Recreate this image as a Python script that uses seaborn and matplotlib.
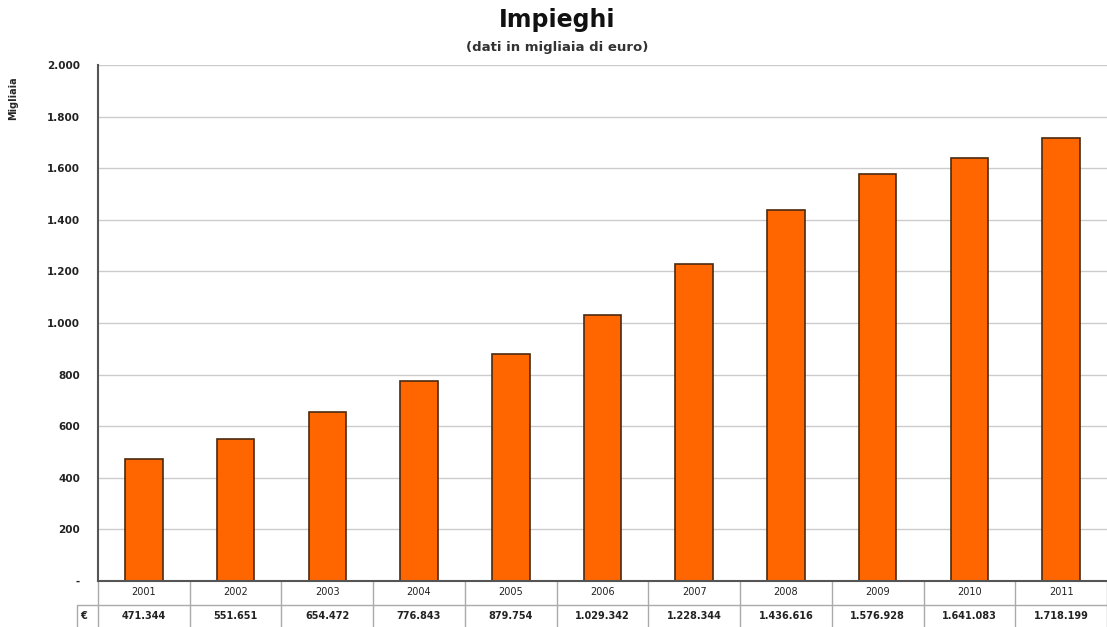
import matplotlib
matplotlib.use("Agg")
import matplotlib.pyplot as plt
import matplotlib.transforms as mtransforms
import seaborn as sns
import pandas as pd

anni = ["2001", "2002", "2003", "2004", "2005", "2006",
        "2007", "2008", "2009", "2010", "2011"]
impieghi = [471.344, 551.651, 654.472, 776.843, 879.754, 1029.342,
            1228.344, 1436.616, 1576.928, 1641.083, 1718.199]
etichette = ["471.344", "551.651", "654.472", "776.843", "879.754", "1.029.342",
             "1.228.344", "1.436.616", "1.576.928", "1.641.083", "1.718.199"]
yticks = [0, 200, 400, 600, 800, 1000, 1200, 1400, 1600, 1800, 2000]
ytick_labels = ["-", "200", "400", "600", "800", "1.000", "1.200",
                "1.400", "1.600", "1.800", "2.000"]

df = pd.DataFrame({"anno": anni, "valore": impieghi})

sns.set_style("white")
plt.rcParams["font.family"] = ["DejaVu Sans"]

fig = plt.figure(figsize=(11.07, 6.27), dpi=100)
ax = fig.add_axes([98 / 1107, 46 / 627, 1009 / 1107, 516 / 627])

sns.barplot(data=df, x="anno", y="valore", color="#FF6600", saturation=1,
            width=0.41, edgecolor="#4a2a10", linewidth=1.2, ax=ax)

ax.set_ylim(0, 2000)
ax.set_xlim(-0.5, len(anni) - 0.5)
ax.set_yticks(yticks)
ax.set_yticklabels(ytick_labels, fontsize=7.5, fontweight="bold", color="#222222")
ax.yaxis.grid(True, color="#cccccc", linewidth=1)
ax.set_axisbelow(True)
ax.tick_params(axis="y", length=4, color="#999999", pad=9)

for s in ["top", "right"]:
    ax.spines[s].set_visible(False)
ax.spines["left"].set_color("#555555")
ax.spines["left"].set_linewidth(1.5)
ax.spines["bottom"].set_color("#555555")
ax.spines["bottom"].set_linewidth(1.5)

ax.set_xticks(range(len(anni)))
ax.set_xticklabels([])
ax.tick_params(axis="x", length=0)
ax.set_xlabel("")
ax.set_ylabel("Migliaia", fontsize=7, fontweight="bold")
ax.yaxis.set_label_coords(-0.079, 0.935)

# data table under the axis
trans = mtransforms.blended_transform_factory(ax.transData, ax.transAxes)
row1 = -0.0465
row2 = -0.090
for i, (a, e) in enumerate(zip(anni, etichette)):
    ax.text(i, -0.022, a, transform=trans, ha="center", va="center",
            fontsize=7, color="#222222", clip_on=False)
    ax.text(i, -0.068, e, transform=trans, ha="center", va="center",
            fontsize=7, fontweight="bold", color="#222222", clip_on=False)
for i in range(len(anni)):
    ax.plot([i + 0.5, i + 0.5], [0, row2], transform=trans, color="#aaaaaa",
            linewidth=1, clip_on=False)
ax.plot([-0.5, -0.5], [0, row2], transform=trans, color="#aaaaaa",
        linewidth=1, clip_on=False)
ax.plot([-0.021, 1], [row1, row1], transform=ax.transAxes, color="#aaaaaa",
        linewidth=1, clip_on=False)
ax.plot([-0.021, -0.021], [row1, row2], transform=ax.transAxes,
        color="#aaaaaa", linewidth=1, clip_on=False)
ax.text(-0.014, -0.068, "€", transform=ax.transAxes, ha="center", va="center",
        fontsize=7, fontweight="bold", color="#222222")

fig.text(0.503, 0.968, "Impieghi", ha="center", va="center",
         fontsize=17, fontweight="bold", color="#111111")
fig.text(0.503, 0.925, "(dati in migliaia di euro)", ha="center", va="center",
         fontsize=9.5, fontweight="bold", color="#333333")

fig.savefig("out.png", dpi=100)
